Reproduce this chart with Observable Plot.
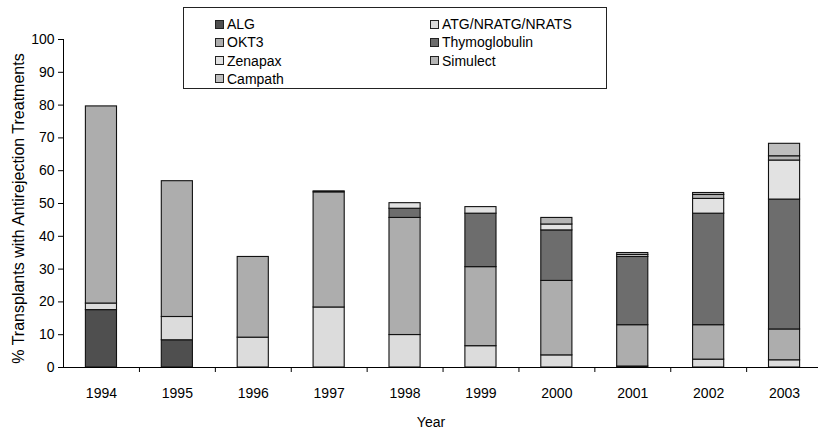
<!DOCTYPE html>
<html>
<head>
<meta charset="utf-8">
<script src="https://cdn.jsdelivr.net/npm/d3@7"></script>
<script src="https://cdn.jsdelivr.net/npm/@observablehq/plot@0.6"></script>
<style>
  html, body { margin: 0; padding: 0; background: #fff; overflow: hidden; }
  #wrap { position: relative; width: 818px; height: 432px; font-family: "Liberation Sans", Arial, sans-serif; }
  #legend { position: absolute; left: 183px; top: 7px; width: 422px; height: 80px; border: 1px solid #222; background: #fff;
            font-size: 14px; color: #000; box-sizing: content-box; }
  .item { position: absolute; display: flex; align-items: center; height: 18px; line-height: 18px; white-space: nowrap; }
  .sw { width: 7px; height: 7px; border: 1px solid #222; margin-right: 3px; }
</style>
</head>
<body>
<div id="wrap"></div>
<script>
const years = ["1994","1995","1996","1997","1998","1999","2000","2001","2002","2003"];
const treatments = ["ALG","ATG/NRATG/NRATS","OKT3","Thymoglobulin","Zenapax","Simulect","Campath"];
const colors = ["#4f4f4f","#dcdcdc","#adadad","#6d6d6d","#e2e2e2","#b4b4b4","#bebebe"];

const ALG           = [17.5, 8.3, 0,    0,    0,    0,    0,    0.3,  0,    0];
const ATG           = [2.0,  7.1, 9.1,  18.3, 9.9,  6.5,  3.7,  0,    2.4,  2.2];
const OKT3          = [60.1, 41.4,24.6, 35.1, 35.7, 24.1, 22.7, 12.6, 10.5, 9.4];
const Thymoglobulin = [0,    0,   0,    0.3,  2.8,  16.3, 15.4, 20.8, 34.0, 39.6];
const Zenapax       = [0,    0,   0,    0,    1.7,  2.0,  1.8,  0.6,  4.5,  11.9];
const Simulect      = [0,    0,   0,    0,    0,    0,    2.0,  0.6,  1.2,  1.3];
const Campath       = [0,    0,   0,    0,    0,    0,    0,    0,    0.6,  3.8];

const seriesValues = [ALG, ATG, OKT3, Thymoglobulin, Zenapax, Simulect, Campath];
const data = [];
treatments.forEach((t, i) => {
  years.forEach((y, j) => {
    const v = seriesValues[i][j];
    if (v > 0) data.push({year: y, treatment: t, value: v});
  });
});

const font = "'Liberation Sans', Arial, sans-serif";

const plot = Plot.plot({
  width: 818,
  height: 432,
  marginTop: 39,
  marginBottom: 65,
  marginLeft: 63,
  marginRight: -4,
  style: {fontFamily: font, fontSize: "14px", color: "#000", background: "#fff", overflow: "visible"},
  x: {domain: years, paddingInner: 0.59, paddingOuter: 0.295, round: false, label: null},
  y: {domain: [0, 100], label: null},
  color: {domain: treatments, range: colors},
  marks: [
    Plot.barY(data, Plot.stackY({
      x: "year", y: "value", fill: "treatment", z: "treatment", order: treatments,
      stroke: "#111", strokeWidth: 1.1
    })),
    Plot.frame({anchor: "left", stroke: "#000"}),
    Plot.ruleY([0], {stroke: "#000"}),
    Plot.axisY({ticks: d3.range(0, 101, 10), tickSize: 5, tickPadding: 4, label: null, fontSize: 14}),
    Plot.axisX({tickSize: 5, tickFormat: () => "", dx: 38, label: null}),
    Plot.axisX({tickSize: 0, tickPadding: 21, label: null, fontSize: 14}),
    Plot.text(["% Transplants with Antirejection Treatments"], {
      frameAnchor: "left", textAnchor: "middle", dx: -45, dy: 5, rotate: -90, text: d => d, fontSize: 16
    }),
    Plot.text(["Year"], {
      frameAnchor: "bottom", dx: -12, dy: 59, text: d => d, fontSize: 14
    })
  ]
});

const wrap = document.getElementById("wrap");
wrap.appendChild(plot);

// Legend (HTML overlay)
const legend = document.createElement("div");
legend.id = "legend";
const positions = [
  [31, 7], [246, 7],
  [31, 25.3], [246, 25.3],
  [31, 43.6], [246, 43.6],
  [31, 61.9]
];
const legendOrder = ["ALG","ATG/NRATG/NRATS","OKT3","Thymoglobulin","Zenapax","Simulect","Campath"];
legendOrder.forEach((t, i) => {
  const it = document.createElement("div");
  it.className = "item";
  it.style.left = positions[i][0] + "px";
  it.style.top = positions[i][1] + "px";
  const sw = document.createElement("span");
  sw.className = "sw";
  sw.style.background = colors[treatments.indexOf(t)];
  const lab = document.createElement("span");
  lab.textContent = t;
  it.appendChild(sw);
  it.appendChild(lab);
  legend.appendChild(it);
});
wrap.appendChild(legend);
</script>
</body>
</html>
